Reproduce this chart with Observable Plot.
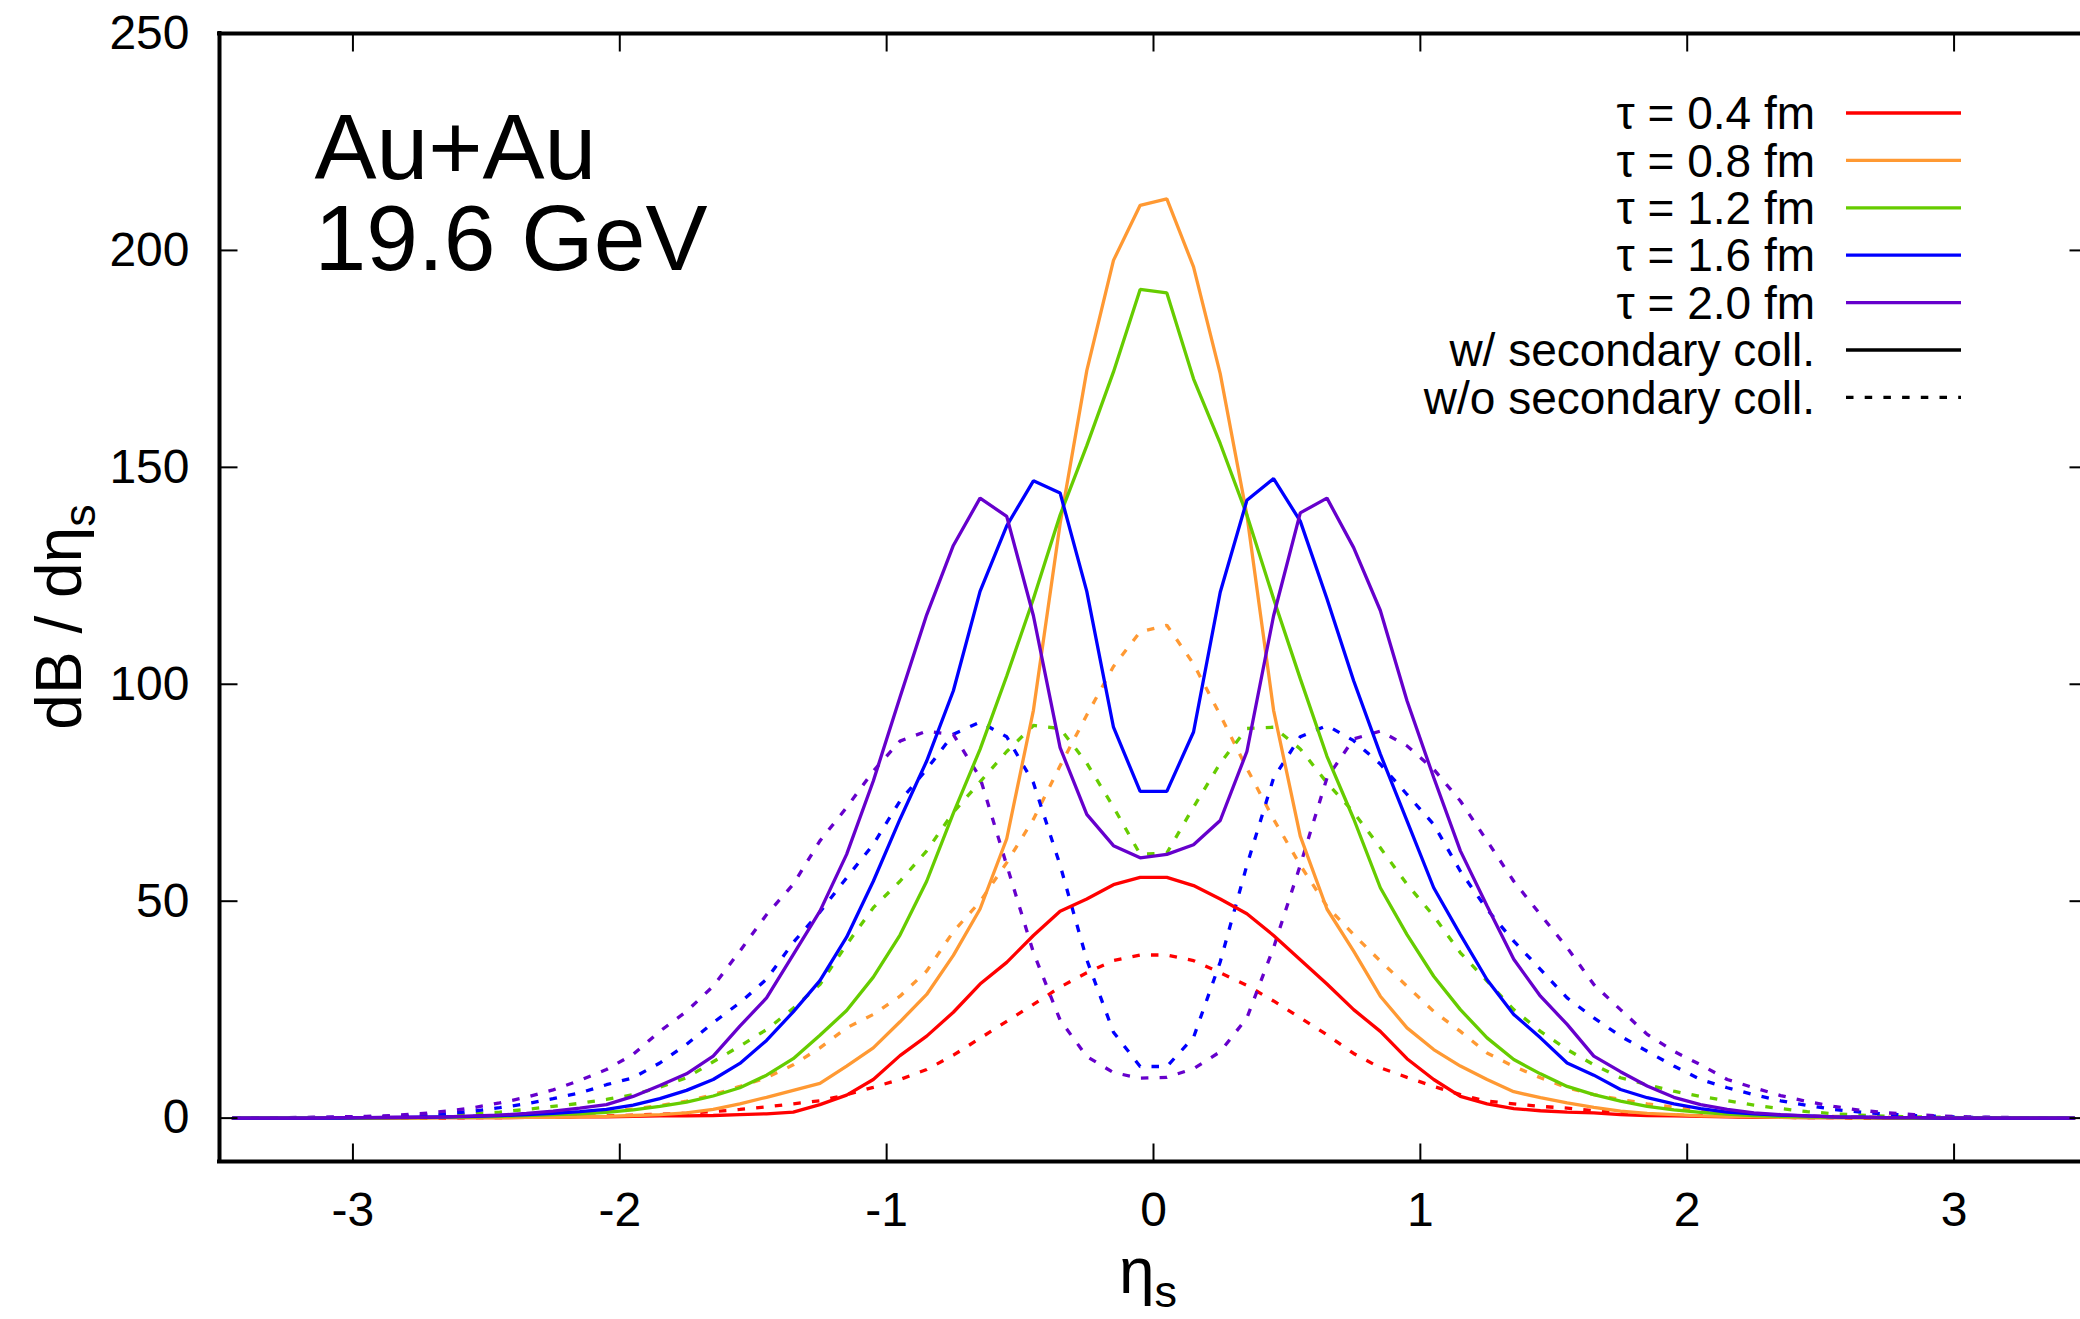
<!DOCTYPE html>
<html>
<head>
<meta charset="utf-8">
<script src="https://cdn.jsdelivr.net/npm/d3@7"></script>
<script src="https://cdn.jsdelivr.net/npm/@observablehq/plot@0.6"></script>
<style>
  html, body { margin: 0; padding: 0; background: #fff; overflow: hidden; }
  svg { display: block; }
</style>
</head>
<body>
<div id="chart"></div>
<script>
// ---------------- data ----------------
const eta = [
  -3.45,-3.35,-3.25,-3.15,-3.05,-2.95,-2.85,-2.75,-2.65,-2.55,
  -2.45,-2.35,-2.25,-2.15,-2.05,-1.95,-1.85,-1.75,-1.65,-1.55,
  -1.45,-1.35,-1.25,-1.15,-1.05,-0.95,-0.85,-0.75,-0.65,-0.55,
  -0.45,-0.35,-0.25,-0.15,-0.05, 0.05, 0.15, 0.25, 0.35, 0.45,
   0.55, 0.65, 0.75, 0.85, 0.95, 1.05, 1.15, 1.25, 1.35, 1.45,
   1.55, 1.65, 1.75, 1.85, 1.95, 2.05, 2.15, 2.25, 2.35, 2.45,
   2.55, 2.65, 2.75, 2.85, 2.95, 3.05, 3.15, 3.25, 3.35, 3.45
];

const tauValues = ["0.4", "0.8", "1.2", "1.6", "2.0"];
const tauLabels = ["τ = 0.4 fm", "τ = 0.8 fm", "τ = 1.2 fm", "τ = 1.6 fm", "τ = 2.0 fm"];
const collLabels = ["w/ secondary coll.", "w/o secondary coll."];
const xTicks = [-3, -2, -1, 0, 1, 2, 3];
const yTicks = [0, 50, 100, 150, 200, 250];

// with secondary collisions (solid)
const with04 = [
  0,0,0,0,0,0,0,0.1,0.1,0.1,
  0.1,0.2,0.2,0.3,0.3,0.4,0.5,0.5,0.6,0.8,
  1.0,1.4,3.1,5.3,8.9,14.4,18.9,24.4,30.9,35.9,
  42.1,47.7,50.5,53.8,55.5,55.5,53.6,50.5,47.1,42.1,
  36.5,30.9,25.0,20.0,13.7,8.9,5.0,3.3,2.2,1.7,
  1.4,1.2,0.8,0.6,0.5,0.4,0.3,0.2,0.2,0.1,
  0.1,0.1,0,0,0,0,0,0,0,0
];
const with08 = [
  0,0,0,0,0,0,0,0,0.1,0.1,
  0.1,0.2,0.2,0.3,0.4,0.6,0.8,1.2,2.0,3.3,
  4.8,6.4,8.0,12.0,16.2,22.2,28.5,37.5,48.2,64.4,
  94.0,137,172.3,197.7,210.4,211.9,196.2,171.6,139,94.0,
  65.0,48.2,38.5,28.1,20.8,15.8,12.0,8.9,6.1,4.7,
  3.5,2.5,1.6,1.1,0.8,0.5,0.4,0.3,0.2,0.1,
  0.1,0.1,0,0,0,0,0,0,0,0
];
const with12 = [
  0,0,0,0,0,0,0.1,0.1,0.2,0.3,
  0.4,0.6,0.8,1.0,1.3,1.9,2.7,3.7,5.1,7.0,
  9.9,13.7,19.1,24.8,32.5,42.2,54.6,70.3,85.0,101.9,
  119.7,139,155,172,191,190.2,170.4,155.5,139,119.7,
  101.3,83.4,69.0,53.1,42.3,32.7,25.0,18.5,13.5,10.2,
  7.3,5.4,3.9,2.7,1.9,1.3,0.9,0.6,0.4,0.3,
  0.2,0.1,0.1,0,0,0,0,0,0,0
];
const with16 = [
  0,0,0,0,0,0.1,0.1,0.2,0.3,0.4,
  0.6,0.8,1.1,1.5,2.0,3.0,4.5,6.4,8.9,12.6,
  17.9,24.5,31.7,41.7,54.6,68.9,82.3,98.5,121.4,136.5,
  146.9,144.1,121.4,90.1,75.3,75.3,89.0,121.2,142.4,147.4,
  137.6,119.7,100.8,83.9,68.5,53.1,42.3,31.9,23.9,18.5,
  12.7,9.9,6.6,4.7,3.3,2.2,1.4,1.0,0.7,0.5,
  0.3,0.2,0.1,0.1,0,0,0,0,0,0
];
const with20 = [
  0,0,0,0,0.1,0.1,0.2,0.2,0.3,0.5,
  0.7,1.1,1.6,2.3,3.1,5.0,7.5,10.2,14.3,21.2,
  27.7,37.7,47.7,60.8,77.7,97.0,116.0,132.0,142.9,138.7,
  115.8,85.4,70.0,62.8,60.0,60.8,63.0,68.6,84.5,115.8,
  139.5,142.9,131.5,117.0,96.2,78.5,61.6,48.9,36.6,28.1,
  21.6,14.3,10.7,7.4,4.8,3.1,2.0,1.2,0.8,0.5,
  0.3,0.2,0.1,0.1,0,0,0,0,0,0
];

// without secondary collisions (dashed)
const without04 = [
  0,0,0,0,0,0,0,0,0,0.1,
  0.1,0.2,0.3,0.4,0.5,0.7,0.9,1.1,1.5,2.0,
  2.6,3.3,4.0,5.4,7.1,8.9,11.2,14.5,18.4,22.3,
  26.2,30.2,33.5,36.3,37.6,37.6,36.3,33.5,30.6,27.0,
  23.1,19.2,14.9,11.6,9.4,7.3,5.4,3.9,3.3,2.7,
  2.3,1.7,1.2,0.9,0.7,0.5,0.4,0.3,0.2,0.1,
  0.1,0,0,0,0,0,0,0,0,0
];
const without08 = [
  0,0,0,0,0,0.1,0.1,0.2,0.3,0.4,
  0.5,0.7,0.9,1.2,1.6,2.1,2.9,3.9,5.4,7.3,
  9.3,12.3,16.2,20.8,23.9,28.1,33.9,43.0,49.9,58.9,
  68.9,81.2,92.9,104.1,112.1,113.6,104.7,92.9,80.6,68.9,
  58.3,48.8,42.3,36.2,30.4,24.6,20.0,15.0,11.9,9.3,
  7.0,5.4,4.3,3.3,2.5,1.8,1.2,0.9,0.7,0.5,
  0.4,0.3,0.2,0.1,0.1,0,0,0,0,0
];
const without12 = [
  0,0,0,0.1,0.1,0.2,0.3,0.4,0.6,1.0,
  1.4,2.0,2.7,3.4,4.3,5.4,7.1,9.3,13.0,16.6,
  20.4,25.3,30.8,40.0,48.5,54.6,61.6,70.5,77.5,84.5,
  90.5,89.8,81.8,71.7,60.8,61.1,71.7,81.8,89.8,90.1,
  85.1,77.3,70.5,62.3,53.9,46.6,38.1,31.6,25.0,20.0,
  15.8,12.3,9.3,7.7,6.2,5.0,4.0,3.0,2.2,1.5,
  1.0,0.7,0.4,0.3,0.2,0.1,0.1,0,0,0
];
const without16 = [
  0,0.1,0.1,0.1,0.2,0.3,0.4,0.6,1.0,1.6,
  2.4,3.3,4.5,5.8,7.7,9.3,12.7,17.0,22.0,26.6,
  32.0,40.5,47.5,55.4,63.1,73.1,80.4,88.5,91.3,87.9,
  77.3,58.3,36.5,19.8,11.9,11.9,18.6,36.0,58.3,78.4,
  87.9,90.5,87.0,81.6,74.6,67.7,56.9,48.1,40.8,34.3,
  27.7,23.1,18.9,15.4,12.0,8.9,7.0,5.4,4.0,2.9,
  2.0,1.4,0.9,0.6,0.4,0.2,0.1,0.1,0,0
];
const without20 = [
  0,0.1,0.1,0.2,0.3,0.4,0.6,1.0,1.6,2.4,
  3.5,4.8,6.5,8.7,11.2,14.7,20.0,24.6,30.4,38.5,
  46.9,53.9,63.9,71.6,80.0,86.9,89.2,88.4,78.5,58.3,
  38.2,22.6,14.2,10.5,9.2,9.4,11.4,15.3,23.1,39.3,
  58.3,78.4,87.4,89.2,85.8,80.4,73.1,63.9,54.6,46.9,
  39.3,30.8,25.0,19.3,15.4,12.3,8.9,7.0,5.2,3.8,
  2.7,1.8,1.2,0.8,0.5,0.3,0.2,0.1,0.1,0
];

// ---------------- styles ----------------
const colors = ["#ff0000", "#ff9933", "#66cc00", "#0000ff", "#6600cc"];
const FONT = "'Liberation Sans', Arial, Helvetica, sans-serif";
const LINE_W = 3.3;
const DASH = "7.5,11.2";
const TICK_LEN = 18;

const withSeries = [with04, with08, with12, with16, with20];
const withoutSeries = [without04, without08, without12, without16, without20];

const rows = [];
tauValues.forEach((tau, i) => {
  eta.forEach((e, j) => {
    rows.push({eta: e, value: withoutSeries[i][j], tau, coll: "without"});
  });
});
tauValues.forEach((tau, i) => {
  eta.forEach((e, j) => {
    rows.push({eta: e, value: withSeries[i][j], tau, coll: "with"});
  });
});

// inward tick symbols (pixel lengths)
const sym = (dx, dy) => ({draw(ctx) { ctx.moveTo(0, 0); ctx.lineTo(dx, dy); }});
const tickRight = sym(TICK_LEN, 0), tickLeft = sym(-TICK_LEN, 0);
const tickUp = sym(0, -TICK_LEN), tickDown = sym(0, TICK_LEN);

const xMin = -3.5, xMax = 3.5, yMin = -10, yMax = 250;

const chart = Plot.plot({
  width: 2080,
  height: 1319,
  marginLeft: 219,
  marginRight: -7,
  marginTop: 33,
  marginBottom: 158,
  style: {fontFamily: FONT, fontSize: "48px", background: "#fff", color: "#000", overflow: "hidden"},
  x: {domain: [xMin, xMax]},
  y: {domain: [yMin, yMax]},
  color: {type: "ordinal", domain: tauValues, range: colors},
  marks: [
    Plot.line(rows.filter(d => d.coll === "without"), {
      x: "eta", y: "value", z: "tau", stroke: "tau",
      strokeWidth: LINE_W, strokeDasharray: DASH, strokeLinejoin: "miter", strokeLinecap: "butt"
    }),
    Plot.line(rows.filter(d => d.coll === "with"), {
      x: "eta", y: "value", z: "tau", stroke: "tau",
      strokeWidth: LINE_W, strokeLinejoin: "miter"
    }),
    Plot.axisX({ticks: xTicks, tickSize: 0, tickPadding: 30, tickFormat: d => String(d), fontSize: 48, label: null}),
    Plot.axisY({ticks: yTicks, tickSize: 0, tickPadding: 30, tickFormat: d => String(d), fontSize: 48, label: null}),
    Plot.dot(yTicks, {x: () => xMin, y: d => d, r: 1, symbol: tickRight, fill: "none", stroke: "#000", strokeWidth: 2}),
    Plot.dot(yTicks, {x: () => xMax, y: d => d, r: 1, symbol: tickLeft, fill: "none", stroke: "#000", strokeWidth: 2}),
    Plot.dot(xTicks, {x: d => d, y: () => yMin, r: 1, symbol: tickUp, fill: "none", stroke: "#000", strokeWidth: 2}),
    Plot.dot(xTicks, {x: d => d, y: () => yMax, r: 1, symbol: tickDown, fill: "none", stroke: "#000", strokeWidth: 2}),
    Plot.ruleX([xMin, xMax], {stroke: "#000", strokeWidth: 4, strokeLinecap: "square"}),
    Plot.ruleY([yMin, yMax], {stroke: "#000", strokeWidth: 4, strokeLinecap: "square"}),
    Plot.text(["Au+Au\n19.6 GeV"], {
      text: d => d, frameAnchor: "top-left", dx: 95, dy: 236,
      textAnchor: "start", lineAnchor: "bottom", fontSize: 93, lineHeight: 0.968, fill: "#000"
    })
  ]
});

document.getElementById("chart").appendChild(chart);

// ---------------- axis titles & legend ----------------
const svg = d3.select(chart);

const yTitle = svg.append("text")
  .attr("transform", "translate(81,617) rotate(-90)")
  .attr("text-anchor", "middle")
  .attr("font-family", FONT).attr("font-size", 64).attr("fill", "#000");
yTitle.append("tspan").text("dB / dη");
yTitle.append("tspan").attr("font-size", 45).attr("dy", "0.3em").text("s");

const xTitle = svg.append("text")
  .attr("x", 1148).attr("y", 1293)
  .attr("text-anchor", "middle")
  .attr("font-family", FONT).attr("font-size", 64).attr("fill", "#000");
xTitle.append("tspan").text("η");
xTitle.append("tspan").attr("font-size", 45).attr("dy", "0.3em").text("s");

const legendItems = [
  ...tauLabels.map((t, i) => ({label: t, color: colors[i], dash: null})),
  {label: collLabels[0], color: "#000", dash: null},
  {label: collLabels[1], color: "#000", dash: DASH}
];
const lg = svg.append("g").attr("font-family", FONT).attr("font-size", 46);
legendItems.forEach((it, i) => {
  const yy = 113 + i * 47.4;
  lg.append("text").attr("x", 1815).attr("y", yy).attr("dy", "0.35em")
    .attr("text-anchor", "end").attr("fill", "#000").text(it.label);
  const ln = lg.append("line").attr("x1", 1846).attr("x2", 1961).attr("y1", yy).attr("y2", yy)
    .attr("stroke", it.color).attr("stroke-width", LINE_W);
  if (it.dash) ln.attr("stroke-dasharray", it.dash);
});
</script>
</body>
</html>
